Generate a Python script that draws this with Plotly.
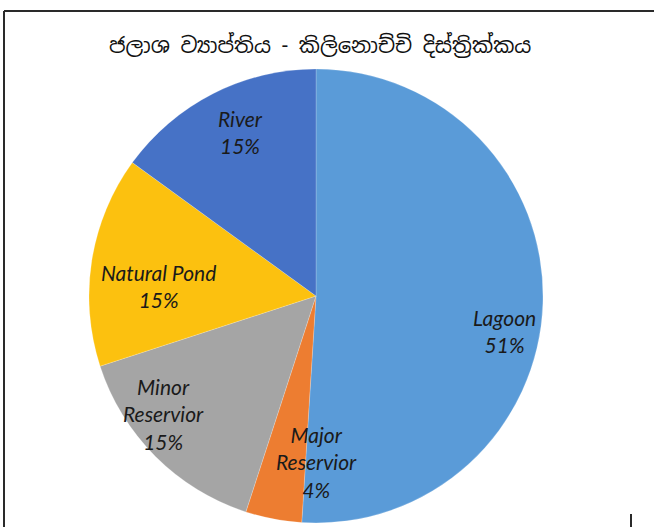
import plotly.graph_objects as go

W, H = 654, 527

categories = ['Lagoon', 'Major Reservior', 'Minor Reservior', 'Natural Pond', 'River']
shares = [51, 4, 15, 15, 15]
colors = ['#5a9bd8', '#ed7d31', '#a5a5a5', '#fcc10f', '#4672c6']
title_text = 'ජලාශ ව්‍යාප්තිය - කිලිනොච්චි දිස්ත්‍රික්කය'

# label text (line breaks) and where the label sits, in pixels from top-left
label_lines = [['Lagoon'], ['Major', 'Reservior'], ['Minor', 'Reservior'], ['Natural Pond'], ['River']]
label_pos = [(504, 331), (316, 462), (163, 414), (158, 286), (240, 132)]

cx, cy, r = 316, 296, 227

fig = go.Figure()
fig.add_trace(go.Pie(labels=categories,
                     values=shares,
                     sort=False,
                     direction='clockwise',
                     rotation=0,
                     marker=dict(colors=colors, line=dict(color='rgba(255,255,255,0.4)', width=0.5)),
                     textinfo='none',
                     hoverinfo='label+percent',
                     showlegend=False,
                     domain=dict(x=[(cx - r) / W, (cx + r) / W],
                                 y=[(H - cy - r) / H, (H - cy + r) / H])
                     ))

total = sum(shares)
annotations = []
for lines, value, (px, py) in zip(label_lines, shares, label_pos):
    text = '<br>'.join(lines + ['{:.0f}%'.format(100 * value / total)])
    annotations.append(dict(x=px / W, y=1 - py / H, xref='paper', yref='paper',
                            text=text, showarrow=False, align='center',
                            xanchor='center', yanchor='middle',
                            font=dict(family='Lato, Open Sans, sans-serif', size=21,
                                      color='#1a1a1a', style='italic')))

annotations.append(dict(x=320 / W, y=1 - 45 / H, xref='paper', yref='paper',
                        text=title_text, showarrow=False,
                        xanchor='center', yanchor='middle',
                        font=dict(family='Noto Sans Sinhala, Noto Sans, DejaVu Sans, sans-serif',
                                  size=21, color='#111111')))

# frame around the chart (cut off at right and bottom)
frame = dict(color='#2a2a2a', width=2)
shapes = [
    dict(type='line', xref='paper', yref='paper', x0=4 / W, x1=1, y0=1 - 11 / H, y1=1 - 11 / H, line=frame),
    dict(type='line', xref='paper', yref='paper', x0=4 / W, x1=4 / W, y0=1 - 11 / H, y1=0, line=frame),
    dict(type='line', xref='paper', yref='paper', x0=631 / W, x1=631 / W, y0=1 - 514 / H, y1=0, line=frame),
]

fig.update_layout(width=W, height=H,
                  margin=dict(l=0, r=0, t=0, b=0),
                  paper_bgcolor='white',
                  plot_bgcolor='white',
                  annotations=annotations,
                  shapes=shapes)

# drop the browser's default body margin so the figure starts at the page corner
fig.write_html('out.html', config=dict(displayModeBar=False),
               post_script="document.body.style.margin = '0';")
